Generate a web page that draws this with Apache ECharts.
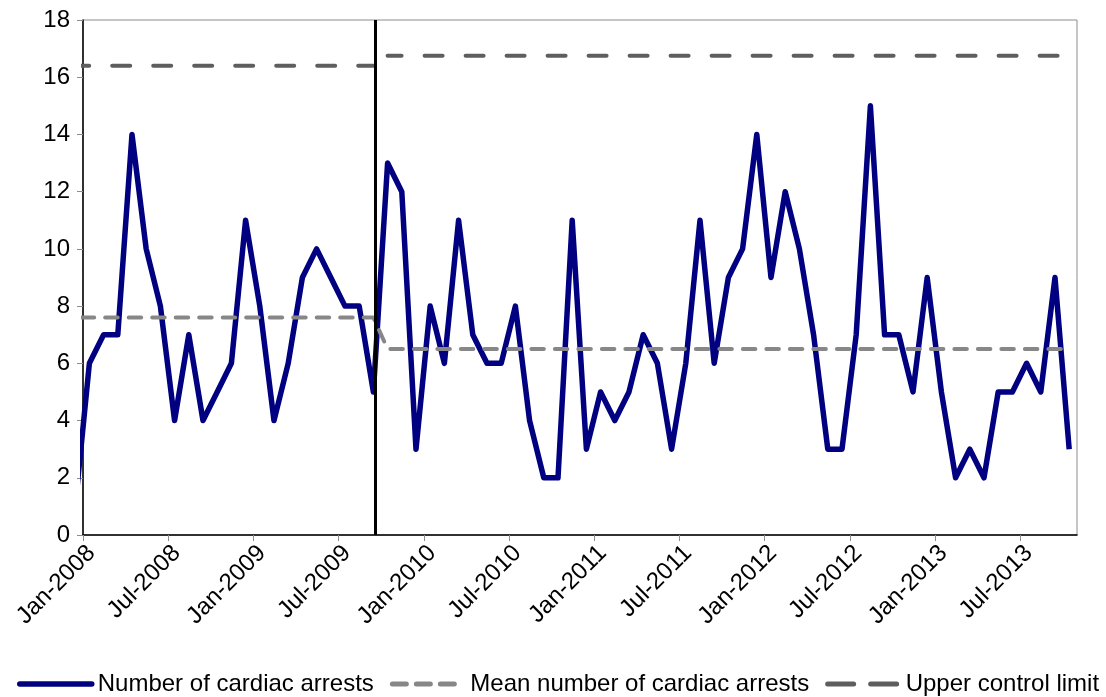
<!DOCTYPE html>
<html>
<head>
<meta charset="utf-8">
<title>Cardiac arrests per month</title>
<script src="https://cdn.jsdelivr.net/npm/echarts@6/dist/echarts.min.js"></script>
<style>
html, body { margin: 0; padding: 0; background: #fff; }
#chart { width: 1106px; height: 697px; }
</style>
</head>
<body>
<div id="chart"></div>
<script>
// monthly counts, Dec-2007 .. Oct-2013 (Dec-2007 only shows as the clipped lead-in)
const arrests = [
  1,
  6, 7, 7, 14, 10, 8, 4, 7, 4, 5, 6, 11,   // 2008
  8, 4, 6, 9, 10, 9, 8, 8, 5, 13, 12, 3,   // 2009
  8, 6, 11, 7, 6, 6, 8, 4, 2, 2, 11, 3,    // 2010
  5, 4, 5, 7, 6, 3, 6, 11, 6, 9, 10, 14,   // 2011
  9, 12, 10, 7, 3, 3, 7, 15, 7, 7, 5, 9,   // 2012
  5, 2, 3, 2, 5, 5, 6, 5, 9, 3             // 2013
];
// before / after the change (Dec-2007..Sep-2009 = 22 months, then Oct-2009 on)
const preMonths = 22;
const meanByPhase = [7.6, 6.5];
const uclByPhase = [16.4, 16.75];
const interventionAt = 20.55; // months after Jan-2008
const tickLabels = [
  "Jan-2008", "Jul-2008", "Jan-2009", "Jul-2009", "Jan-2010", "Jul-2010",
  "Jan-2011", "Jul-2011", "Jan-2012", "Jul-2012", "Jan-2013", "Jul-2013"
];

// counts are dated mid-month, x = months since Jan-2008
const monthX = i => i - 1 + 0.45;

const arrestsData = arrests.map((v, i) => [monthX(i), v]);
const meanData = arrests.map((v, i) => [monthX(i), meanByPhase[i < preMonths ? 0 : 1]]);
const uclPreData = arrests.slice(0, preMonths).map((v, i) => [monthX(i), uclByPhase[0]]);
const uclPostData = arrests.slice(preMonths).map((v, i) => [monthX(i + preMonths), uclByPhase[1]]);

const font = "Liberation Sans, Arial, sans-serif";
const navy = "#000080", meanGrey = "#878787", uclGrey = "#5e5e5e";
const uclStyle = { color: uclGrey, width: 4, type: [18, 23], dashOffset: 4, cap: "round" };

let chart = echarts.init(document.getElementById("chart"));
let option = {
  animation: false,
  legend: {
    left: 17,
    top: 672,
    padding: 0,
    itemWidth: 72,
    itemHeight: 14,
    itemGap: 16,
    itemStyle: { opacity: 0 },
    textStyle: { fontSize: 24, color: "#000", fontFamily: font, padding: [0, 0, 0, 1] },
    data: [
      {
        name: "Number of cardiac arrests",
        itemStyle: { opacity: 0 },
        lineStyle: { color: navy, width: 5.5, cap: "round" }
      },
      {
        name: "Mean number of cardiac arrests",
        itemStyle: { opacity: 0 },
        lineStyle: { color: meanGrey, width: 5, type: [14, 10], dashOffset: 0, cap: "round" }
      },
      {
        name: "Upper control limit",
        itemStyle: { opacity: 0 },
        lineStyle: { color: uclGrey, width: 5, type: [26, 17], dashOffset: 0, cap: "round" }
      }
    ]
  },
  grid: {
    left: 83,
    right: 29,
    top: 20,
    bottom: 162,
    show: true,
    borderColor: "#8c8c8c",
    borderWidth: 1,
    outerBoundsMode: "none"
  },
  xAxis: {
    type: "value",
    min: 0,
    max: 70,
    interval: 6,
    splitLine: { show: false },
    axisLine: { lineStyle: { color: "#000", width: 1.5 } },
    axisTick: { length: 6, lineStyle: { color: "#8c8c8c" } },
    axisLabel: {
      rotate: 45,
      margin: 6,
      verticalAlign: "top",
      fontSize: 24,
      color: "#000",
      fontFamily: font,
      showMaxLabel: false,
      formatter: v => tickLabels[v / 6] || ""
    }
  },
  yAxis: {
    type: "value",
    min: 0,
    max: 18,
    interval: 2,
    splitLine: { show: false },
    axisLine: { show: true, lineStyle: { color: "#000", width: 1.5 } },
    axisTick: { show: true, length: 6, lineStyle: { color: "#8c8c8c" } },
    axisLabel: { margin: 13, fontSize: 24, color: "#000", fontFamily: font }
  },
  series: [
    {
      name: "Number of cardiac arrests",
      type: "line",
      symbol: "none",
      z: 2,
      lineStyle: { color: navy, width: 5.5, join: "round" },
      itemStyle: { color: navy },
      data: arrestsData
    },
    {
      name: "Mean number of cardiac arrests",
      type: "line",
      symbol: "none",
      z: 3,
      lineStyle: { color: meanGrey, width: 4, type: [12.5, 11], dashOffset: 17, cap: "round" },
      itemStyle: { color: meanGrey },
      data: meanData
    },
    {
      name: "Upper control limit",
      type: "line",
      symbol: "none",
      z: 3,
      lineStyle: uclStyle,
      itemStyle: { color: uclGrey },
      data: uclPreData
    },
    {
      name: "Upper control limit",
      type: "line",
      symbol: "none",
      z: 3,
      lineStyle: uclStyle,
      itemStyle: { color: uclGrey },
      data: uclPostData
    },
    {
      // vertical marker where the change came in
      name: "intervention",
      type: "line",
      data: [],
      z: 5,
      markLine: {
        silent: true,
        symbol: "none",
        label: { show: false },
        lineStyle: { color: "#000", width: 3, type: "solid" },
        data: [{ xAxis: interventionAt }]
      }
    }
  ]
};
chart.setOption(option);
</script>
</body>
</html>
